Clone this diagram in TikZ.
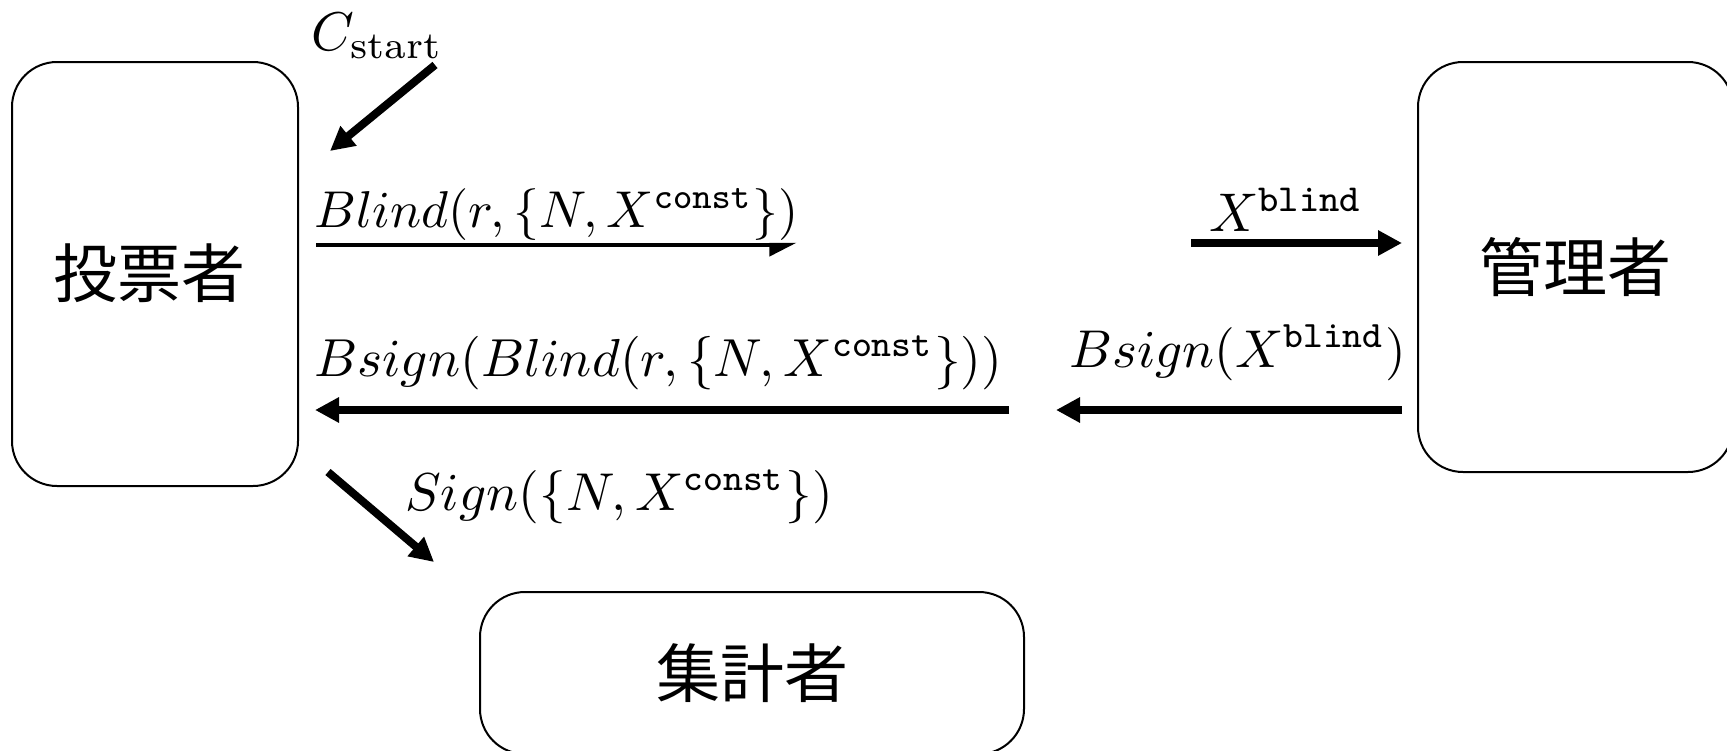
\documentclass[tikz,border=0pt]{standalone}
\usepackage{graphicx}
\usepackage{fontspec}
\newfontfamily\cjk{Noto Sans CJK JP}
\usetikzlibrary{arrows.meta}
\newcommand{\bigmath}[2]{\scalebox{#1}{$#2$}}
\tikzset{
  actor/.style={draw, line width=2pt, rounded corners=45pt, inner sep=0pt,
    font=\cjk\fontsize{64}{70}\selectfont},
  lab/.style={inner sep=0pt, anchor=base west},
  bigarrow/.style={line width=8pt, -{Triangle[length=24pt,width=24pt]}},
  thinarrow/.style={line width=4.5pt, -{Triangle[length=23pt,width=22pt,harpoon,swap]}}
}
\begin{document}
\begin{tikzpicture}[x=1pt,y=-1pt]
\useasboundingbox (0,0) rectangle (1727,750);
% actors
\node[actor, minimum width=286pt, minimum height=424pt] (voter) at (155,274) {\raisebox{7pt}{投票者}\hspace*{12pt}};
\node[actor, minimum width=315pt, minimum height=410pt] (mgr) at (1575.5,267) {管理者};
\node[actor, minimum width=544pt, minimum height=162pt] (counter) at (752,673) {集計者};
% arrow end points
\coordinate (cs1) at (435,65);   \coordinate (cs2) at (330,151);
\coordinate (b1) at (316,245);   \coordinate (b2) at (797,245);
\coordinate (xb1) at (1191,243); \coordinate (xb2) at (1402,243);
\coordinate (bx1) at (1402,410); \coordinate (bx2) at (1056,410);
\coordinate (bb1) at (1009,410); \coordinate (bb2) at (315,410);
\coordinate (s1) at (328,472);   \coordinate (s2) at (434,562);
% arrows
\draw[bigarrow] (cs1) -- (cs2);
\draw[thinarrow] (b1) -- (b2);
\draw[bigarrow] (xb1) -- (xb2);
\draw[bigarrow] (bx1) -- (bx2);
\draw[bigarrow] (bb1) -- (bb2);
\draw[bigarrow] (s1) -- (s2);
% labels
\node[lab] (lstart) at (311,50) {\bigmath{5.45}{C_{\mathrm{start}}}};
\node[lab] (lblind) at (314,227) {\bigmath{5.18}{Blind(r,\{N,X^{\mathtt{const}}\})}};
\node[lab] (lxblind) at (1209,231) {\bigmath{5.45}{X^{\mathtt{blind}}}};
\node[lab] (lbsx) at (1069,367) {\bigmath{5.32}{Bsign(X^{\mathtt{blind}})}};
\node[lab] (lbsb) at (314,376) {\bigmath{5.35}{Bsign(Blind(r,\{N,X^{\mathtt{const}}\}))}};
\node[lab] (lsign) at (405,510) {\bigmath{5.33}{Sign(\{N,X^{\mathtt{const}}\})}};
\end{tikzpicture}
\end{document}
